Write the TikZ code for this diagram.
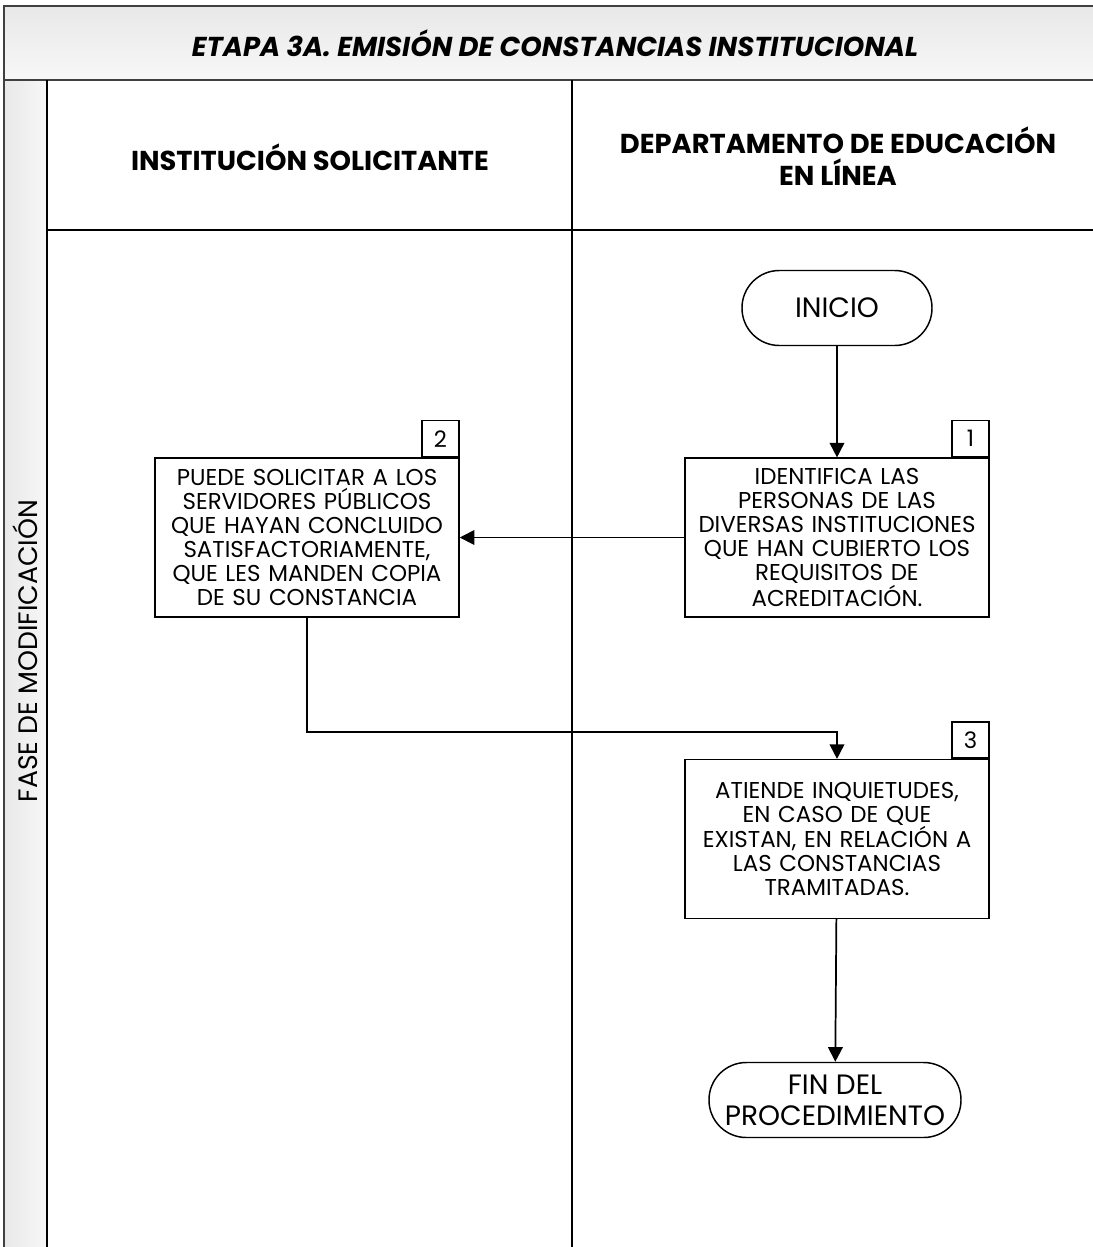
\documentclass[tikz,border=0pt]{standalone}
\usepackage{fontspec}
\setmainfont{Poppins}
\usetikzlibrary{positioning,arrows.meta}

\tikzset{
  marco/.style={draw=black!75, line width=1.5pt},
  carril/.style={draw=black, line width=1.1pt},
  paso/.style={draw, line width=1.1pt, minimum width=228pt, minimum height=119pt,
    text width=226pt, align=center, inner sep=0pt, font=\fontsize{17.2}{18}\selectfont},
  numero/.style={draw, line width=1.1pt, minimum width=27.75pt, minimum height=27pt,
    inner sep=0pt, font=\fontsize{17}{18}\selectfont},
  terminal/.style={draw, rectangle, rounded corners=28pt, line width=1.1pt, minimum height=56.25pt,
    inner sep=0pt, align=center, font=\fontsize{21}{23}\selectfont},
  flecha/.style={line width=1.3pt, -{Triangle[length=11pt,width=11pt]}},
  encabezado/.style={align=center, font=\fontsize{20.5}{24}\selectfont\bfseries}
}

\begin{document}
\begin{tikzpicture}[x=0.75pt, y=-0.75pt]
\useasboundingbox (0,0) rectangle (1093,1247);

% fondos
\shade[top color=black!9, bottom color=black!3] (4,6) rectangle (1093,80);
\shade[left color=black!9, right color=black!3] (4,80) rectangle (47,1247);

% marco y carriles
\draw[marco] (4,1247) -- (4,6) -- (1093,6);
\draw[marco] (4,80) -- (1093,80);
\draw[carril] (47,80) -- (47,1247);
\draw[carril] (47,230) -- (1093,230);
\draw[carril] (572,80) -- (572,1247);

% textos
\node[font=\fontsize{20.5}{24}\selectfont\bfseries\itshape] (titulo) at (555,43)
  {ETAPA 3A. EMISIÓN DE CONSTANCIAS INSTITUCIONAL};
\node[encabezado] (inst) at (310,157) {INSTITUCIÓN SOLICITANTE};
\node[encabezado] (depto) at (838,156) {DEPARTAMENTO DE EDUCACIÓN\\EN LÍNEA};
\node[rotate=90, font=\fontsize{20}{22}\selectfont] (fase) at (25,651) {FASE DE MODIFICACIÓN};

% nodos
\node[terminal, minimum width=142.5pt] (inicio) at (837,308) {INICIO};
\node[paso] (p1) at (837,537.5) {IDENTIFICA LAS\\PERSONAS DE LAS\\DIVERSAS INSTITUCIONES\\QUE HAN CUBIERTO LOS\\REQUISITOS DE\\ACREDITACIÓN.};
\node[paso] (p2) at (307,537.5) {PUEDE SOLICITAR A LOS\\SERVIDORES PÚBLICOS\\QUE HAYAN CONCLUIDO\\SATISFACTORIAMENTE,\\QUE LES MANDEN COPIA\\DE SU CONSTANCIA};
\node[paso] (p3) at (837,839) {ATIENDE INQUIETUDES,\\EN CASO DE QUE\\EXISTAN, EN RELACIÓN A\\LAS CONSTANCIAS\\TRAMITADAS.};
\node[terminal, minimum width=189pt] (fin) at (835,1100) {FIN DEL\\PROCEDIMIENTO};

\node[numero, anchor=south east] (n1) at (p1.north east) {1};
\node[numero, anchor=south east] (n2) at (p2.north east) {2};
\node[numero, anchor=south east] (n3) at (p3.north east) {3};

% conectores
\coordinate (codo) at (307,732);
\draw[flecha] (inicio) -- (p1);
\draw[flecha] (p1) -- (p2);
\draw[flecha] (p2.south) -- (codo) -| (p3.north);
\draw[flecha] (p3) -- (fin);
\end{tikzpicture}
\end{document}
